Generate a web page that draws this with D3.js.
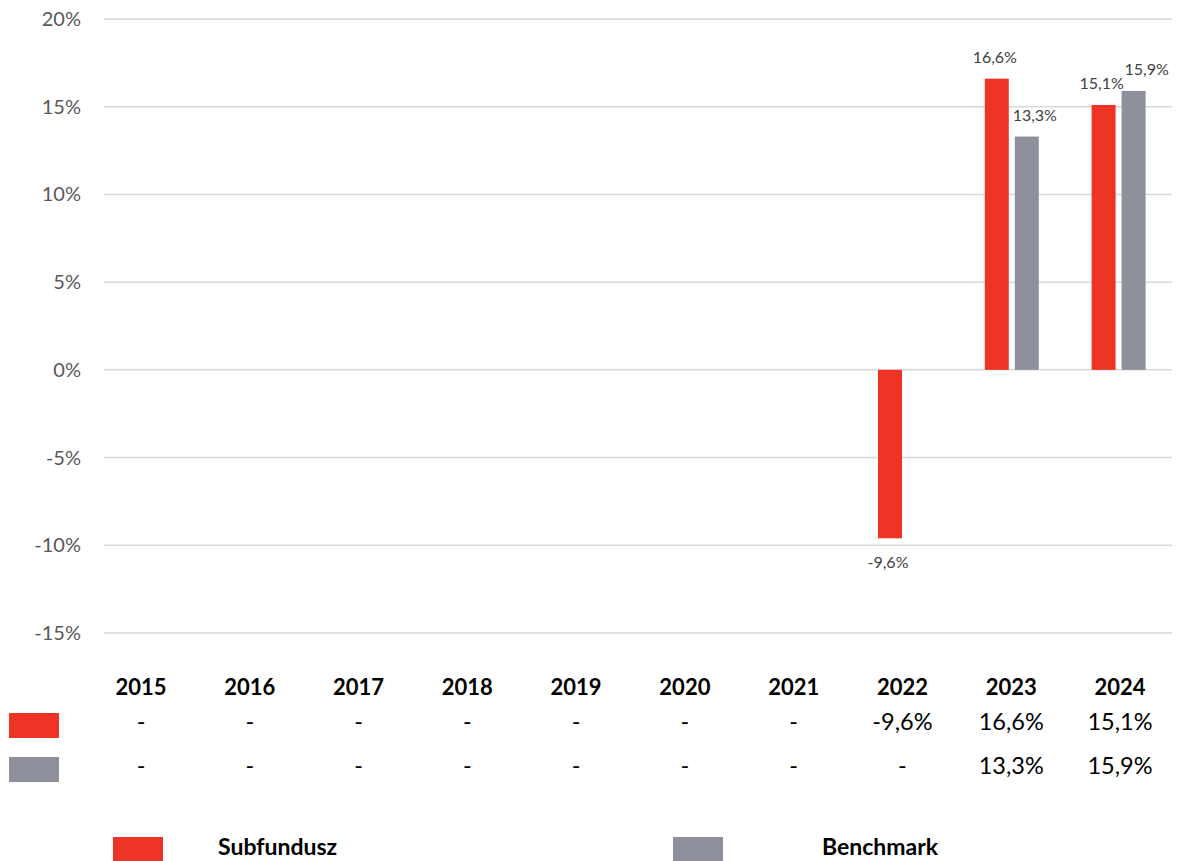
<!DOCTYPE html>
<html>
<head>
<meta charset="utf-8">
<script src="https://cdn.jsdelivr.net/npm/d3@7"></script>
<style>
  body { margin: 0; background: #fff; }
  svg { font-family: Lato, "Open Sans", sans-serif; }
</style>
</head>
<body>
<svg id="chart" width="1177" height="861"></svg>
<script>
// data
const years = ["2015", "2016", "2017", "2018", "2019", "2020", "2021", "2022", "2023", "2024"];
const subfundusz = [null, null, null, null, null, null, null, -9.6, 16.6, 15.1];
const benchmark = [null, null, null, null, null, null, null, null, 13.3, 15.9];
const yTicks = [20, 15, 10, 5, 0, -5, -10, -15];
const seriesNames = ["Subfundusz", "Benchmark"];
const colors = ["#EE3424", "#8E909C"];

const svg = d3.select("#chart");
const fmt = v => v == null ? "-" : String(v.toFixed(1)).replace(".", ",") + "%";

const x = d3.scaleBand().domain(years).range([104, 1172]);
const y = d3.scaleLinear().domain([-15, 20]).range([633, 19]);
const barW = 24, gap = 3;

// grid + y labels
svg.selectAll("line.grid").data(yTicks).enter().append("line")
    .attr("x1", 104).attr("x2", 1172)
    .attr("y1", d => y(d)).attr("y2", d => y(d))
    .attr("stroke", "#d9d9d9").attr("stroke-width", 1.5);

svg.selectAll("text.ylab").data(yTicks).enter().append("text")
    .attr("x", 81).attr("y", d => y(d) + 7)
    .attr("text-anchor", "end")
    .attr("font-size", "20px").attr("fill", "#595959")
    .text(d => d + "%");

// bars
const series = [subfundusz, benchmark];
series.forEach((vals, si) => {
    const pts = years.map((yr, i) => ({ yr, v: vals[i] })).filter(d => d.v != null);
    const bx = d => x(d.yr) + x.bandwidth() / 2 + (si === 0 ? -gap - barW : gap);
    svg.selectAll("rect.s" + si).data(pts).enter().append("rect")
        .attr("x", bx)
        .attr("y", d => y(Math.max(0, d.v)))
        .attr("width", barW)
        .attr("height", d => Math.abs(y(d.v) - y(0)))
        .attr("fill", colors[si]);
    svg.selectAll("text.l" + si).data(pts).enter().append("text")
        .attr("x", d => bx(d) + barW / 2 + (si === 1 && d.v > 15 ? 13 : (si === 1 ? 8 : -2)))
        .attr("y", d => d.v >= 0 ? y(d.v) - 16 : y(d.v) + 30)
        .attr("text-anchor", "middle")
        .attr("font-size", "16px").attr("fill", "#404040")
        .text(d => fmt(d.v));
});

// data table under the chart
const tx = d3.scalePoint().domain(years).range([141, 1120]);
svg.selectAll("text.year").data(years).enter().append("text")
    .attr("x", d => tx(d)).attr("y", 695)
    .attr("text-anchor", "middle")
    .attr("font-size", "22px").attr("font-weight", "bold").attr("fill", "#000")
    .text(d => d);

const rowY = [730, 774];
series.forEach((vals, si) => {
    svg.append("rect").attr("x", 9).attr("y", rowY[si] - 17)
        .attr("width", 50).attr("height", 25).attr("fill", colors[si]);
    svg.selectAll("text.row" + si).data(years).enter().append("text")
        .attr("x", d => tx(d)).attr("y", rowY[si])
        .attr("text-anchor", "middle")
        .attr("font-size", "23.5px").attr("fill", "#000")
        .text((d, i) => fmt(vals[i]));
});

// legend
const legX = [113, 673], legTextX = [218, 822];
seriesNames.forEach((name, i) => {
    svg.append("rect").attr("x", legX[i]).attr("y", 837)
        .attr("width", 50).attr("height", 24).attr("fill", colors[i]);
    svg.append("text").attr("x", legTextX[i]).attr("y", 855)
        .attr("font-size", "23px").attr("font-weight", "bold").attr("fill", "#000")
        .text(name);
});
</script>
</body>
</html>
